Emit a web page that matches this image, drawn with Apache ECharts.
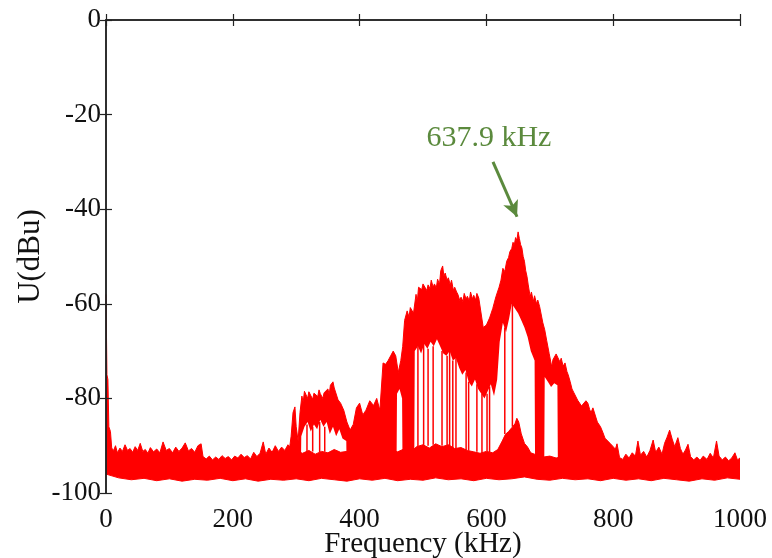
<!DOCTYPE html>
<html>
<head>
<meta charset="utf-8">
<script src="https://cdn.jsdelivr.net/npm/echarts@6/dist/echarts.min.js"></script>
<style>
  html, body { margin: 0; padding: 0; background: #fff; }
  #chart { width: 772px; height: 558px; }
</style>
</head>
<body>
<div id="chart"></div>
<script>
/* -------------------------------------------------------------------------- */
/* Spectrum U(dBu) vs Frequency (kHz)           */

var xTicks = [0, 200, 400, 600, 800, 1000];
var yTicks = [-100, -80, -60, -40, -20, 0];

// noise floor, upper edge [kHz, dBu]
var floorTop = [
  [0, -58], [1.5, -75], [3, -76], [4.5, -86], [7, -87], [9, -90.5], [12, -91], [15, -90],
  [18, -91.5], [22, -90.5], [26, -91.2], [30, -89.8], [34, -91], [38, -90.6], [42, -91.4],
  [46, -90.2], [50, -91], [54, -89.5], [58, -91.2], [62, -90.8], [66, -91.6], [70, -90.4],
  [75, -91.3], [80, -90.7], [85, -91.5], [90, -89.2], [95, -91], [100, -90.6], [105, -91.5],
  [110, -90.3], [115, -91.2], [120, -90.5], [125, -89.4], [130, -91.1], [135, -90.6],
  [140, -91.4], [145, -90], [150, -89.6], [153, -92.3], [158, -92.8], [163, -92.2],
  [168, -93], [173, -92.4], [178, -92.9], [183, -92.1], [188, -92.7], [193, -92.3],
  [198, -93], [203, -92.2], [208, -92.6], [213, -91.8], [218, -92.5], [223, -92.1],
  [228, -92.8], [233, -91.4], [238, -92.3], [243, -91.6], [248, -89.2], [252, -91.8],
  [257, -90.5], [262, -91.4], [267, -90], [272, -91.2], [277, -90.3], [282, -91],
  [287, -89.8], [292, -90.6], [297, -91.5], [302, -91.2], [310, -91.6], [320, -91],
  [330, -91.8], [340, -91.2], [350, -91.5], [360, -90.8], [370, -91.4], [380, -91.2],
  [390, -90.9], [400, -91.5], [410, -90.6], [420, -91.1], [430, -90.8], [440, -91.5],
  [450, -91], [460, -91.3], [470, -90.7], [480, -91.4], [490, -90.2], [500, -89.8],
  [510, -90.5], [520, -89.6], [530, -90.2], [540, -89.8], [550, -90.6], [560, -90.4],
  [570, -91], [580, -91.3], [590, -91.6], [600, -91.2], [610, -91.5], [618, -90.8],
  [625, -89], [630, -87.6], [635, -87], [640, -86.2], [645, -85.4], [648, -84.2],
  [651, -85], [655, -87.5], [660, -89.5], [665, -90.3], [670, -91.5], [680, -92],
  [690, -92.4], [700, -92.2], [710, -92.6], [720, -92.3], [730, -92.5], [740, -92],
  [750, -92.4], [760, -92.1], [770, -92.6], [780, -92.2], [790, -92.8], [800, -92.3],
  [806, -89.6], [810, -92.5], [815, -92.9], [820, -91.8], [825, -92.6], [830, -91.5],
  [835, -92.2], [839, -89], [843, -92], [848, -91.2], [853, -92.4], [858, -91],
  [863, -88.8], [867, -91.4], [872, -90.3], [877, -91.8], [881, -89.5], [885, -88.2],
  [889, -86.7], [893, -88.6], [897, -90.2], [902, -88.3], [906, -90.6], [910, -91.8],
  [914, -90.9], [918, -89.7], [922, -92.3], [927, -93], [932, -92.4], [937, -93.1],
  [942, -92.2], [948, -92.9], [953, -91.6], [958, -92.6], [963, -89], [967, -92.2],
  [972, -93], [977, -92.4], [982, -93.2], [987, -92.6], [992, -91.5], [996, -93],
  [1000, -92.6]
];

// noise floor, lower edge
var floorBottom = [
  [0, -96], [20, -96.8], [40, -97.2], [60, -96.9], [80, -97.4], [100, -97], [120, -97.5],
  [140, -97.1], [160, -97.3], [180, -96.9], [200, -97.4], [220, -97], [240, -97.5],
  [260, -97.1], [280, -97.3], [300, -97], [320, -97.4], [340, -96.9], [360, -97.2],
  [380, -97.5], [400, -97], [420, -97.3], [440, -96.9], [460, -97.4], [480, -97.1],
  [500, -97.3], [520, -96.8], [540, -97.2], [560, -97], [580, -97.4], [600, -96.9],
  [620, -97.2], [640, -97], [660, -96.6], [680, -97.1], [700, -97.3], [720, -96.9],
  [740, -97.2], [760, -97], [780, -97.4], [800, -96.9], [820, -97.3], [840, -97],
  [860, -97.4], [880, -96.9], [900, -97.2], [920, -97.5], [940, -97], [960, -97.3],
  [980, -96.8], [1000, -97.1]
];

// signal band, upper edge
var signalTop = [
  [288, -92], [292, -88], [295, -83], [298, -81.8], [300, -86], [303, -89], [306, -83],
  [309, -79.5], [311, -80.8], [313, -78.5], [318, -80], [320, -78.6], [322, -79],
  [326, -80.2], [328, -78.9], [330, -78.8], [334, -79.6], [336, -78.2], [338, -79],
  [342, -80], [344, -78.8], [346, -78.6], [350, -78], [352, -79.2], [354, -77.2],
  [358, -76.5], [360, -77.8], [362, -78], [366, -80.3], [370, -81], [375, -82.5],
  [380, -85], [385, -86.7], [390, -85.5], [395, -82], [400, -81], [405, -83.5],
  [410, -82.5], [416, -80.5], [422, -81.5], [427, -80], [432, -82.5], [437, -72.5],
  [441, -72.8], [445, -72], [449, -71], [453, -70], [457, -71], [461, -74.5], [465, -72],
  [468, -69], [471, -63.5], [475, -61.5], [478, -62.8], [480, -60.8], [485, -62],
  [489, -58], [491, -59.5], [493, -56.5], [498, -57], [500, -55.8], [503, -55.5],
  [506, -57.2], [508, -56], [511, -56.8], [513, -55], [516, -56.5], [518, -55.8],
  [521, -56.6], [523, -54.8], [526, -55.9], [528, -53], [531, -52], [533, -54.2],
  [535, -53.5], [538, -55], [540, -54.5], [543, -56], [545, -55], [548, -57.2],
  [550, -56.5], [553, -57.5], [555, -58], [558, -59.3], [560, -58.6], [563, -59.5],
  [565, -57.8], [568, -59], [570, -58.4], [573, -59.4], [575, -57.5], [578, -59],
  [580, -58.2], [583, -59.2], [585, -57.8], [588, -58.8], [590, -59], [595, -65],
  [600, -64.5], [605, -63], [610, -61], [615, -58.5], [620, -56.5], [623, -55],
  [626, -52.5], [629, -53.2], [632, -51], [635, -50.2], [637, -49], [640, -48.3],
  [642, -47], [644, -47.6], [646, -46], [648, -46.6], [650, -44.8], [652, -46.2],
  [654, -47.5], [656, -48.2], [658, -50], [660, -51], [662, -53], [664, -54.2],
  [666, -56], [669, -58.5], [671, -57.5], [674, -59.5], [676, -58.3], [679, -60],
  [681, -59.2], [684, -60.6], [689, -64], [692, -65.5], [695, -67.7], [699, -70.5],
  [703, -73.3], [705, -71.8], [708, -71.5], [710, -70.6], [713, -70.2], [716, -72.3],
  [718, -71.5], [721, -73.2], [724, -72.5], [727, -74.3], [729, -75], [732, -76.4],
  [735, -78], [738, -78.8], [741, -79], [744, -80.4], [747, -80.3], [750, -81.6],
  [753, -82], [757, -80.5], [760, -81], [763, -82.4], [765, -83], [768, -82],
  [771, -82.4], [775, -85], [780, -86], [784, -87.3], [787, -88.4], [790, -88.5],
  [795, -89.5], [800, -90.2], [805, -91]
];

// signal band, lower edge (-100 where the band reaches down to the floor)
var signalBottom = [
  [286, -100], [307, -100], [308, -88], [313, -86], [318, -85], [323, -87], [328, -85.5],
  [333, -86.5], [338, -84.5], [343, -86], [348, -85], [353, -87.5], [358, -86],
  [363, -88], [368, -86.5], [373, -88.5], [379, -89], [380, -100], [458, -100],
  [459, -79], [463, -78], [467, -80], [468, -100], [486, -100], [487, -70], [492, -69],
  [497, -70.5], [502, -68.5], [507, -69.5], [512, -68], [517, -69], [522, -67.5],
  [527, -69], [532, -70.5], [537, -71], [542, -70], [547, -72], [552, -71.5],
  [557, -73.5], [562, -75], [567, -74], [572, -76.5], [577, -77.5], [582, -76],
  [587, -78], [592, -79], [597, -80], [602, -78.5], [607, -77], [612, -79.5],
  [617, -76], [621, -68], [626, -64], [631, -66], [636, -63], [640, -60], [645, -61],
  [650, -62], [655, -63.5], [660, -65], [665, -67], [670, -70], [676, -72],
  [677, -100], [691, -100], [692, -75.5], [697, -76.5], [702, -77.6], [707, -76.8],
  [712, -77.2], [713, -100], [810, -100]
];

// vertical drops of the signal trace [kHz, from dBu, to dBu]
var dropLines = [
  [317, -85.5, -91.5], [326, -86, -91.2], [337, -85, -91.4], [345, -86, -91.3],
  [492, -69, -90.5], [501, -68.5, -90], [508, -69.5, -90], [516, -69, -89.8],
  [530, -70, -90], [538, -71, -90], [542, -70, -90.2], [547, -72, -90.5],
  [552, -71.5, -90.6], [568, -74.5, -91], [572, -76.5, -91], [585, -77, -91.3],
  [593, -79, -91.6], [601, -79, -91.2], [605, -77.5, -91.4], [629, -65, -87.5],
  [641, -60, -86]
];

var annotationText = '637.9 kHz';
var annotationAt = [604, -25];
var arrowFrom = [610.4, -30.0];
var arrowTo = [648.3, -41.6];

var RED = '#ff0000';
var GREEN = '#5b8a3d';
var FONT = '"Liberation Serif", "Times New Roman", serif';

var dropData = [];
dropLines.forEach(function (d) {
  dropData.push([d[0], d[1]], [d[0], d[2]], '-');
});

var bandSeries = function (data, fill, showLine) {
  return {
    type: 'line',
    data: data,
    showSymbol: false,
    smooth: false,
    silent: true,
    lineStyle: { color: RED, width: showLine ? 1 : 0 },
    areaStyle: { color: fill, opacity: 1, origin: 'start' }
  };
};

var chart = echarts.init(document.getElementById('chart'));

var axisCommon = {
  type: 'value',
  z: 5,
  nameMoveOverlap: false,
  axisLine: { show: true, lineStyle: { color: '#222', width: 1.5 } },
  axisTick: { show: true, inside: true, length: 6, lineStyle: { color: '#222', width: 1.2 } },
  splitLine: { show: false }
};

chart.setOption({
  animation: false,
  backgroundColor: '#fff',
  grid: { left: 106, right: 32, top: 20, bottom: 65, outerBoundsMode: 'none' },
  xAxis: [
    Object.assign({}, axisCommon, {
      position: 'bottom',
      min: xTicks[0], max: xTicks[xTicks.length - 1], interval: 200,
      name: 'Frequency (kHz)',
      nameLocation: 'middle',
      nameGap: 37,
      nameTextStyle: { fontFamily: FONT, fontSize: 29, color: '#111', verticalAlign: 'top' },
      axisLabel: {
        fontFamily: FONT, fontSize: 27, color: '#111', margin: 13,
        formatter: function (v) { return String(v); }
      }
    }),
    Object.assign({}, axisCommon, {
      position: 'top',
      min: xTicks[0], max: xTicks[xTicks.length - 1], interval: 200,
      axisLabel: { show: false }
    })
  ],
  yAxis: [
    Object.assign({}, axisCommon, {
      position: 'left',
      min: yTicks[0], max: yTicks[yTicks.length - 1], interval: 20,
      name: 'U(dBu)',
      nameLocation: 'middle',
      nameGap: 60,
      nameTextStyle: { fontFamily: FONT, fontSize: 31, color: '#111' },
      axisLabel: { fontFamily: FONT, fontSize: 27, color: '#111', margin: 5 }
    }),
    Object.assign({}, axisCommon, {
      position: 'right',
      min: yTicks[0], max: yTicks[yTicks.length - 1], interval: 20,
      axisLabel: { show: false }
    })
  ],
  series: [
    bandSeries(signalTop, RED, true),
    bandSeries(signalBottom, '#ffffff', false),
    bandSeries(floorTop, RED, true),
    bandSeries(floorBottom, '#ffffff', true),
    {
      type: 'line',
      data: dropData,
      showSymbol: false,
      connectNulls: false,
      silent: true,
      lineStyle: { color: RED, width: 1.5 },
      markLine: {
        silent: true,
        symbol: ['none', 'arrow'],
        symbolSize: [12, 16],
        label: { show: false },
        lineStyle: { color: GREEN, width: 3, type: 'solid' },
        data: [[{ coord: arrowFrom }, { coord: arrowTo }]]
      },
      markPoint: {
        silent: true,
        symbol: 'circle',
        symbolSize: 0,
        label: {
          show: true,
          position: 'inside',
          formatter: annotationText,
          fontFamily: FONT,
          fontSize: 30,
          color: GREEN
        },
        data: [{ coord: annotationAt }]
      }
    }
  ]
});
</script>
</body>
</html>
